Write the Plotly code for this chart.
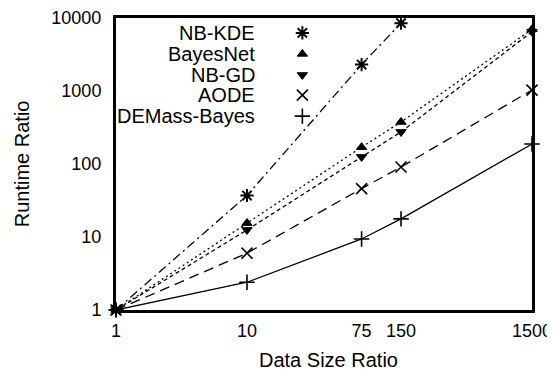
import plotly.graph_objects as go

x_vals = [1, 10, 75, 150, 1500]
x_ticks = [1, 10, 75, 150, 1500]
y_ticks = [1, 10, 100, 1000, 10000]

nb_kde = [1, 37, 2300, 8500]
bayesnet = [1, 15.5, 170, 376, 7000]
nb_gd = [1, 12.5, 125, 275, 6500]
aode = [1, 6.0, 46, 91, 1030]
demass = [1, 2.4, 9.4, 17.7, 188]

names = ["NB-KDE", "BayesNet", "NB-GD", "AODE", "DEMass-Bayes"]
series = [nb_kde, bayesnet, nb_gd, aode, demass]
dashes = ["9px,4px,2px,4px", "2px,3px", "4px,3px", "10px,6px", "solid"]
symbols = ["asterisk-open", "triangle-up", "triangle-down", "x-thin-open", "cross-thin-open"]
sizes = [11, 9, 9, 11, 11]
mlw = [2, 1, 1, 1.6, 1.6]

FONT = "Liberation Sans, Arial, sans-serif"

fig = go.Figure()
for nm, ys, d, s, sz, lw in zip(names, series, dashes, symbols, sizes, mlw):
    fig.add_trace(go.Scatter(
        x=x_vals[:len(ys)], y=ys, mode="lines+markers", name=nm,
        line=dict(color="black", width=1.3, dash=d),
        marker=dict(symbol=s, size=sz, color="black",
                    line=dict(color="black", width=lw)),
        cliponaxis=False, showlegend=False,
    ))

# hand-built legend: text then symbol, on an overlay axis in [0,1]
leg_y = [0.949, 0.877, 0.805, 0.736, 0.664]
for nm, s, sz, lw, ly in zip(names, symbols, sizes, mlw, leg_y):
    fig.add_trace(go.Scatter(
        x=[0.448], y=[ly], mode="markers", xaxis="x2", yaxis="y2",
        marker=dict(symbol=s, size=sz, color="black",
                    line=dict(color="black", width=lw)),
        showlegend=False, hoverinfo="skip",
    ))
    fig.add_annotation(x=0.34, y=ly, xref="x2", yref="y2", text=nm,
                       showarrow=False, xanchor="right", yanchor="middle",
                       font=dict(family=FONT, size=20, color="black"))

# axis titles
fig.add_annotation(x=0.51, y=-0.171, xref="paper", yref="paper",
                   text="Data Size Ratio", showarrow=False,
                   xanchor="center", yanchor="middle",
                   font=dict(family=FONT, size=20, color="black"))
fig.add_annotation(x=-0.2254, y=0.5, xref="paper", yref="paper",
                   text="Runtime Ratio", showarrow=False, textangle=-90,
                   xanchor="center", yanchor="middle",
                   font=dict(family=FONT, size=20, color="black"))

# page body has an 8px margin, so the figure is shrunk by 8px on each axis
fig.update_layout(
    width=547, height=364,
    margin=dict(l=108, r=23, t=10, b=62),
    paper_bgcolor="white", plot_bgcolor="white",
    font=dict(family=FONT, size=18, color="black"),
    xaxis=dict(type="log", range=[0, 3.1761], tickvals=x_ticks,
               ticktext=[str(v) for v in x_ticks], automargin=False,
               showgrid=False, zeroline=False, showline=True, linecolor="black",
               linewidth=3, mirror=True, ticks="", ticklabelstandoff=2,
               tickfont=dict(family=FONT, size=18)),
    yaxis=dict(type="log", range=[0, 4], tickvals=y_ticks,
               ticktext=[str(v) for v in y_ticks], automargin=False,
               showgrid=False, zeroline=False, showline=True, linecolor="black",
               linewidth=3, mirror=True, ticks="", ticklabelstandoff=8,
               tickfont=dict(family=FONT, size=18)),
    xaxis2=dict(overlaying="x", range=[0, 1], visible=False, anchor="y2"),
    yaxis2=dict(overlaying="y", range=[0, 1], visible=False, anchor="x2"),
)

fig.write_html("out.html")
